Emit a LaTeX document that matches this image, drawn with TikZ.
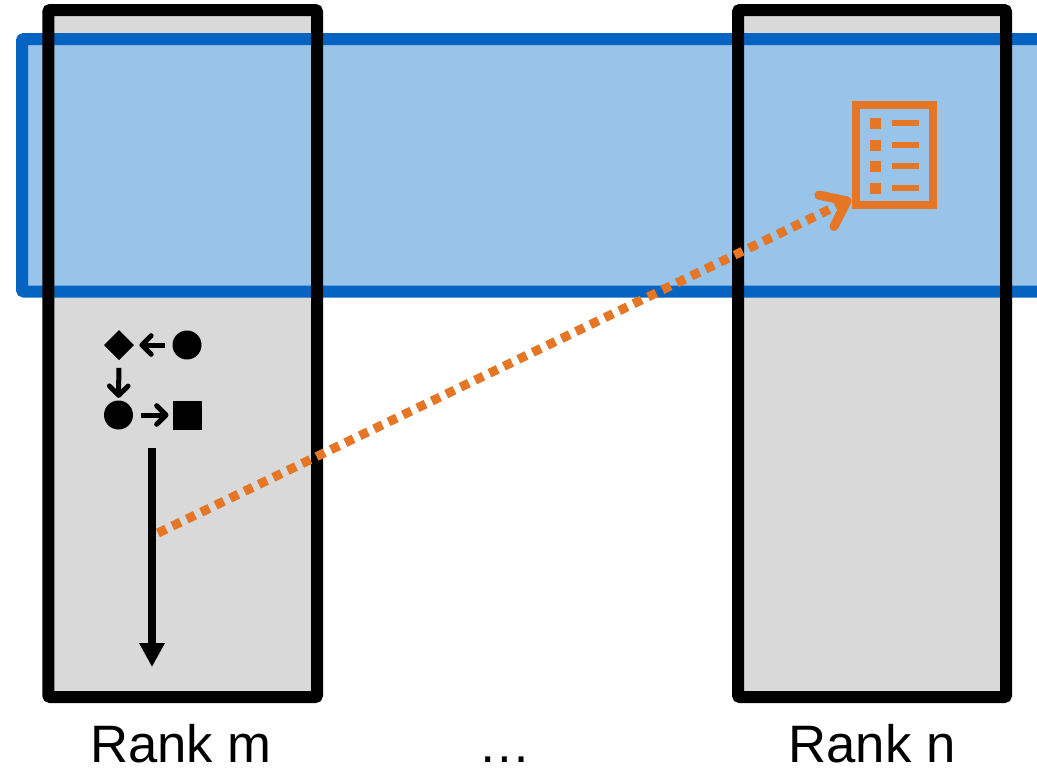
\documentclass[tikz,border=0pt]{standalone}
\usepackage{fontspec}
\setmainfont{Liberation Sans}
\usetikzlibrary{arrows.meta,shapes.geometric}
\definecolor{rankgray}{RGB}{217,217,217}
\definecolor{bandblue}{RGB}{5,99,193}
\definecolor{bandfill}{RGB}{153,196,234}
\definecolor{listorange}{RGB}{230,117,36}
\tikzset{
	rankbox/.style={line width=9pt,rounded corners=1.5pt},
	bandbox/.style={draw=bandblue,fill=bandfill,line width=9pt,rounded corners=1.5pt},
	ranklabel/.style={anchor=base,inner sep=0pt,font=\fontsize{39.5}{44}\selectfont},
	shapenode/.style={fill=black,inner sep=0pt,outer sep=0pt},
	smallarrow/.style={line width=3.75pt,-{Straight Barb[length=7pt,width=14pt,round]}},
	flowarrow/.style={line width=6pt,-{Triangle[length=18pt,width=18pt]}},
	commarrow/.style={listorange,line width=6.75pt,dash pattern=on 6.75pt off 5.25pt,-{Straight Barb[length=17pt,width=26pt,round]}},
	shadowcopy/.style={black,opacity=0.15,shift={(2,3)}},
	listdot/.style={fill=listorange,inner sep=0pt,minimum size=8.25pt},
	listline/.style={fill=listorange,inner sep=0pt,minimum width=20.25pt,minimum height=4.5pt},
}
\begin{document}
\begin{tikzpicture}[x=0.75pt,y=0.75pt,yscale=-1,xscale=1]
	\useasboundingbox (0,0) rectangle (1037,768);
	% ranks and shared window
	\fill [rankgray] (48.3,10) rectangle (317,697);
	\fill [rankgray] (738,10) rectangle (1006,697);
	\begin{scope}
		\clip (0,0) rectangle (1037,768);
		\draw [bandbox] (22,39) rectangle (1060,291.5);
	\end{scope}
	\draw [rankbox] (48.3,10) rectangle (317,697);
	\draw [rankbox] (738,10) rectangle (1006,697);
	% small task graph
	\node [shapenode,diamond,minimum size=22.5pt] (taskd) at (119,345) {};
	\node [shapenode,circle,minimum size=21.75pt] (taska) at (187,345) {};
	\node [shapenode,circle,minimum size=21.75pt] (taskb) at (118.5,415) {};
	\node [shapenode,rectangle,minimum size=21.75pt] (taskc) at (187,415) {};
	\draw [smallarrow,shorten <=5.5,shorten >=4] (taska) -- (taskd);
	\draw [smallarrow,shorten <=6,shorten >=2] (taskd) -- (taskb);
	\draw [smallarrow,shorten <=6,shorten >=3] (taskb) -- (taskc);
	% progress of rank m
	\coordinate (flowstart) at (152,448);
	\coordinate (flowend) at (152,667);
	\draw [flowarrow,shadowcopy] (flowstart) -- (flowend);
	\draw [flowarrow] (flowstart) -- (flowend);
	% list in the window
	\node [draw=listorange,line width=6pt,fill=none,minimum width=57.75pt,minimum height=75pt,inner sep=0pt] (checklist) at (894.5,155) {};
	\foreach \y/\n in {123/a,145/b,166/c,188/d}{
		\node [listdot] (dot\n) at (875.5,\y) {};
		\node [listline] (line\n) at (905.5,\y) {};
	}
	\coordinate (commstart) at (158,533);
	\coordinate (commend) at (851,199);
	\draw [commarrow,shadowcopy] (commstart) -- (commend);
	\draw [commarrow] (commstart) -- (commend);
	% labels
	\node [ranklabel] (rankm) at (181,762) {Rank m};
	\node [ranklabel] (dots) at (504.5,762) {…};
	\node [ranklabel] (rankn) at (872,762) {Rank n};
\end{tikzpicture}
\end{document}
